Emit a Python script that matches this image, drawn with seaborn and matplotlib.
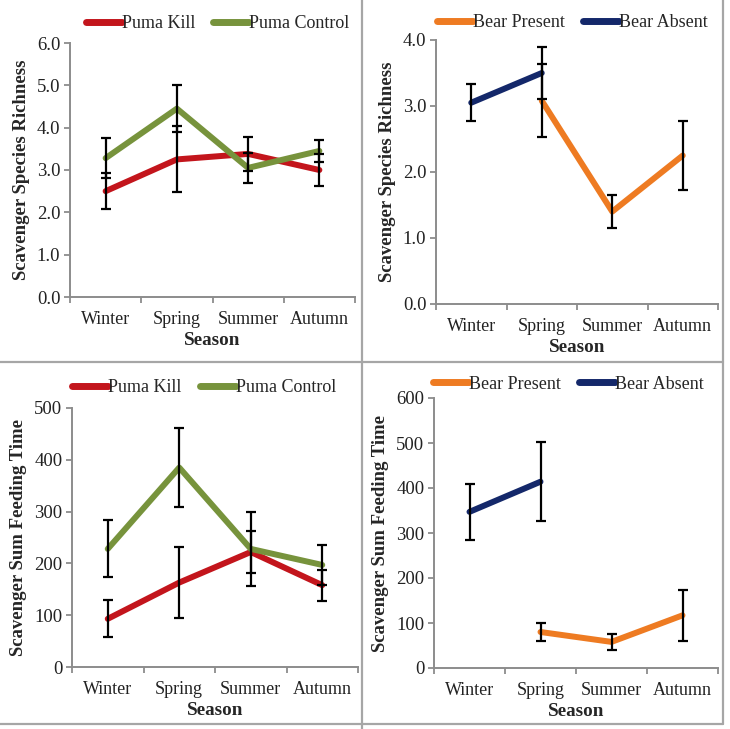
import matplotlib
matplotlib.use("Agg")
import matplotlib.pyplot as plt
import seaborn as sns
import pandas as pd
import numpy as np
from matplotlib.lines import Line2D
from matplotlib.ticker import FixedLocator

sns.set_theme(style="white")
plt.rcParams['font.family'] = ['Liberation Serif', 'DejaVu Serif']

seasons = ["Winter", "Spring", "Summer", "Autumn"]

# Top-left: species richness, puma
kill_rich = [2.50, 3.25, 3.38, 3.00]
kill_rich_se = [0.42, 0.78, 0.40, 0.37]
ctrl_rich = [3.28, 4.45, 3.05, 3.45]
ctrl_rich_se = [0.47, 0.55, 0.35, 0.27]

# Top-right: species richness, bear
bear_abs_seasons = ["Winter", "Spring"]
bear_abs_rich = [3.05, 3.50]
bear_abs_rich_se = [0.28, 0.40]
bear_pres_seasons = ["Spring", "Summer", "Autumn"]
bear_pres_rich = [3.08, 1.40, 2.25]
bear_pres_rich_se = [0.55, 0.25, 0.52]

# Bottom-left: sum feeding time, puma
kill_feed = [93, 163, 222, 158]
kill_feed_se = [36, 68, 40, 30]
ctrl_feed = [228, 385, 228, 197]
ctrl_feed_se = [55, 77, 71, 38]

# Bottom-right: sum feeding time, bear
bear_abs_feed = [347, 414]
bear_abs_feed_se = [62, 88]
bear_pres_feed = [80, 58, 117]
bear_pres_feed_se = [20, 17, 57]

RED = "#C3151C"
GREEN = "#77933C"
ORANGE = "#EE7B22"
NAVY = "#14286A"
GRAY = "#8C8C8C"

fig = plt.figure(figsize=(7.3, 7.29), dpi=100)

def px_axes(left, right, top, bottom):
    W, H = 730.0, 729.0
    return fig.add_axes([left / W, 1 - bottom / H, (right - left) / W, (bottom - top) / H])


def draw_panel(ax, series, ylim, yticks, yfmt, ylabel, legend_anchor):
    rows = []
    for name, cats, vals, ses, color in series:
        for c, v, s in zip(cats, vals, ses):
            rows.append({"Season": c, "pos": seasons.index(c), "value": v, "se": s, "series": name})
    df = pd.DataFrame(rows)
    palette = {name: color for name, _, _, _, color in series}
    sns.lineplot(data=df, x="pos", y="value", hue="series", palette=palette,
                 linewidth=4.3, ax=ax, legend=False, sort=True,
                 hue_order=[s[0] for s in series])
    for name, cats, vals, ses, color in series:
        sub = df[df.series == name]
        ax.errorbar(sub["pos"], sub["value"], yerr=sub["se"], fmt="none",
                    ecolor="black", elinewidth=1.6, capsize=3.5, capthick=1.6, zorder=5)
    ax.set_xlim(-0.5, 3.5)
    ax.set_ylim(*ylim)
    ax.set_yticks(yticks)
    ax.set_yticklabels([yfmt.format(t) for t in yticks], fontsize=13.5, color="#222222")
    ax.set_xticks(range(4))
    ax.set_xticklabels(seasons, fontsize=13, color="#222222")
    ax.xaxis.set_minor_locator(FixedLocator([-0.5, 0.5, 1.5, 2.5, 3.5]))
    ax.tick_params(axis="x", which="major", length=0, pad=10)
    ax.tick_params(axis="x", which="minor", length=4, width=1.3, color=GRAY, direction="out", bottom=True)
    ax.tick_params(axis="y", which="major", length=4, width=1.3, color=GRAY, direction="out", left=True, pad=3)
    for sp in ["top", "right"]:
        ax.spines[sp].set_visible(False)
    for sp in ["left", "bottom"]:
        ax.spines[sp].set_color(GRAY)
        ax.spines[sp].set_linewidth(1.4)
    ax.set_xlabel("Season", fontsize=13.8, fontweight="bold", labelpad=3)
    ax.set_ylabel(ylabel, fontsize=13.5, fontweight="bold", labelpad=5)
    handles = [Line2D([], [], color=color, linewidth=5, solid_capstyle="round")
               for _, _, _, _, color in series]
    ax.legend(handles, [s[0] for s in series], loc="lower center",
              bbox_to_anchor=legend_anchor, ncol=2, frameon=False,
              fontsize=13, handlelength=2.0, handletextpad=0.0, columnspacing=1.0,
              borderaxespad=0)


ax1 = px_axes(70, 355, 43, 297)
draw_panel(ax1, [("Puma Kill", seasons, kill_rich, kill_rich_se, RED),
                 ("Puma Control", seasons, ctrl_rich, ctrl_rich_se, GREEN)],
           (0, 6), [0, 1, 2, 3, 4, 5, 6], "{:.1f}", "Scavenger Species Richness", (0.518, 1.014))

ax2 = px_axes(436, 718, 40, 304)
draw_panel(ax2, [("Bear Present", bear_pres_seasons, bear_pres_rich, bear_pres_rich_se, ORANGE),
                 ("Bear Absent", bear_abs_seasons, bear_abs_rich, bear_abs_rich_se, NAVY)],
           (0, 4), [0, 1, 2, 3, 4], "{:.1f}", "Scavenger Species Richness", (0.484, 1.006))

ax3 = px_axes(72, 358, 408, 667)
draw_panel(ax3, [("Puma Kill", seasons, kill_feed, kill_feed_se, RED),
                 ("Puma Control", seasons, ctrl_feed, ctrl_feed_se, GREEN)],
           (0, 500), [0, 100, 200, 300, 400, 500], "{:d}", "Scavenger Sum Feeding Time", (0.462, 1.018))

ax4 = px_axes(434, 718, 398, 668)
draw_panel(ax4, [("Bear Present", bear_pres_seasons, bear_pres_feed, bear_pres_feed_se, ORANGE),
                 ("Bear Absent", bear_abs_seasons, bear_abs_feed, bear_abs_feed_se, NAVY)],
           (0, 600), [0, 100, 200, 300, 400, 500, 600], "{:d}", "Scavenger Sum Feeding Time", (0.472, 0.993))

# panel separators
W, H = 730.0, 729.0
sep = dict(color="#A6A6A6", linewidth=1.6, transform=fig.transFigure)
fig.add_artist(Line2D([362 / W, 362 / W], [0, 1], **sep))
fig.add_artist(Line2D([0, 723 / W], [1 - 362 / H, 1 - 362 / H], **sep))
fig.add_artist(Line2D([723 / W, 723 / W], [1 - 724 / H, 1], **sep))
fig.add_artist(Line2D([0, 723 / W], [1 - 724 / H, 1 - 724 / H], **sep))

fig.savefig("out.png", dpi=100)
